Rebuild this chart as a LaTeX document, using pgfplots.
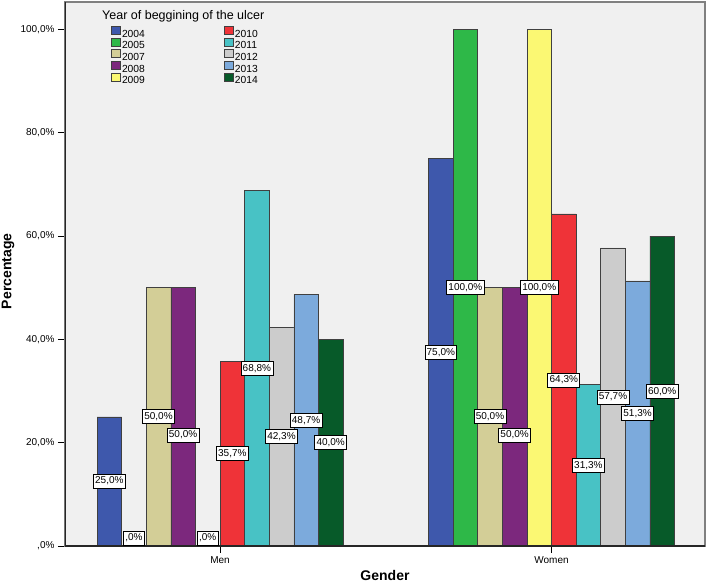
\documentclass[border=0pt]{standalone}
\usepackage{fontspec}
\setmainfont{Liberation Sans}
\usepackage{pgfplots}
\pgfplotsset{compat=1.18}
\definecolor{bg}{HTML}{F0F0F0}
\definecolor{cA}{HTML}{3E58AC}
\definecolor{cB}{HTML}{2EB848}
\definecolor{cC}{HTML}{D3CE97}
\definecolor{cD}{HTML}{7C287D}
\definecolor{cE}{HTML}{FBF873}
\definecolor{cF}{HTML}{EF3338}
\definecolor{cG}{HTML}{48C2C5}
\definecolor{cH}{HTML}{CCCCCC}
\definecolor{cI}{HTML}{7CAADC}
\definecolor{cJ}{HTML}{075A29}
\pgfplotsset{
  mybar/.style={ybar, bar width=0.0742, fill=#1, draw=black!75, line width=0.6pt,
    legend image code/.code={\draw[fill=#1, draw=black!75, line width=0.6pt] (0pt,-0.5pt) rectangle (9pt,7.5pt);}},
  lab/.style={forget plot, draw=none, mark=none, nodes near coords, point meta=explicit symbolic,
    nodes near coords align=center,
    nodes near coords style={anchor=center, font=\fontsize{10}{12}\selectfont, fill=white, draw=black,
      line width=0.7pt, inner xsep=1.8pt, inner ysep=2.5pt, text height=7.5pt, text depth=1.5pt}},
}
\begin{document}
\begin{tikzpicture}
\begin{axis}[
  name=ax,
  scale only axis, width=640pt, height=544pt,
  xmin=-0.4676, xmax=1.463, ymin=0, ymax=105.3,
  axis background/.style={fill=bg},
  axis line style={draw=gray, line width=1.6pt},
  xtick={0,1}, xticklabels={Men,Women},
  ytick={0,20,40,60,80,100},
  yticklabels={{,0\%},{20,0\%},{40,0\%},{60,0\%},{80,0\%},{100,0\%}},
  tick pos=left, tick align=outside, major tick length=7pt,
  major tick style={draw=black, line width=1pt},
  ticklabel style={font=\fontsize{10}{12}\selectfont},
  xlabel={Gender}, ylabel={Percentage},
  xlabel style={font=\bfseries\fontsize{14}{16}\selectfont, at={(axis description cs:0.5,-0.055)}, anchor=center},
  ylabel style={font=\bfseries\fontsize{14}{16}\selectfont, at={(axis description cs:-0.089,0.505)}, anchor=center},
  legend columns=2,
  legend cell align=left,
  legend style={at={(rel axis cs:0.0719,0.9559)}, anchor=north west, draw=none, fill=none,
    inner sep=0pt, row sep=-2.1pt, column sep=0pt,
    font=\fontsize{10.3}{12}\selectfont,
    nodes={inner sep=1.2pt, text height=8pt, text depth=1.4pt},
    /tikz/every even column/.append style={column sep=78pt}},
]
\addplot[mybar=cA, bar shift=-0.3339] coordinates {(0,25) (1,75)};
\addlegendentry{2004}
\addplot[mybar=cF, bar shift=0.0371] coordinates {(0,35.7) (1,64.3)};
\addlegendentry{2010}
\addplot[mybar=cB, bar shift=-0.2597] coordinates {(1,100)};
\addlegendentry{2005}
\addplot[mybar=cG, bar shift=0.1113] coordinates {(0,68.8) (1,31.3)};
\addlegendentry{2011}
\addplot[mybar=cC, bar shift=-0.1855] coordinates {(0,50) (1,50)};
\addlegendentry{2007}
\addplot[mybar=cH, bar shift=0.1855] coordinates {(0,42.3) (1,57.7)};
\addlegendentry{2012}
\addplot[mybar=cD, bar shift=-0.1113] coordinates {(0,50) (1,50)};
\addlegendentry{2008}
\addplot[mybar=cI, bar shift=0.2597] coordinates {(0,48.7) (1,51.3)};
\addlegendentry{2013}
\addplot[mybar=cE, bar shift=-0.0371] coordinates {(1,100)};
\addlegendentry{2009}
\addplot[mybar=cJ, bar shift=0.3339] coordinates {(0,40) (1,60)};
\addlegendentry{2014}
% value labels
\addplot[lab] coordinates {
 (-0.3339,12.6) [25,0\%]
 (-0.2597,1.55) [,0\%]
 (-0.1855,25) [50,0\%]
 (-0.1113,21.5) [50,0\%]
 (-0.0371,1.55) [,0\%]
 (0.0371,17.85) [35,7\%]
 (0.1113,34.4) [68,8\%]
 (0.1855,21.15) [42,3\%]
 (0.2597,24.35) [48,7\%]
 (0.3339,20) [40,0\%]
 (0.6661,37.5) [75,0\%]
 (0.7403,50) [100,0\%]
 (0.8145,25) [50,0\%]
 (0.8887,21.5) [50,0\%]
 (0.9629,50) [100,0\%]
 (1.0371,32.15) [64,3\%]
 (1.1113,15.65) [31,3\%]
 (1.1855,28.85) [57,7\%]
 (1.2597,25.65) [51,3\%]
 (1.3339,30) [60,0\%]
};
\draw[black!85, line width=1.3pt] (rel axis cs:0,1) -- (rel axis cs:0,0) -- (rel axis cs:1,0);
\node[anchor=base west, font=\fontsize{12.5}{14}\selectfont, inner sep=0pt] at (rel axis cs:0.0578,0.967) {Year of beggining of the ulcer};
\end{axis}
\pgfresetboundingbox
\path[use as bounding box] ([xshift=-65pt,yshift=-40pt]ax.south west) rectangle ([xshift=4pt,yshift=2pt]ax.north east);
\end{tikzpicture}
\end{document}
